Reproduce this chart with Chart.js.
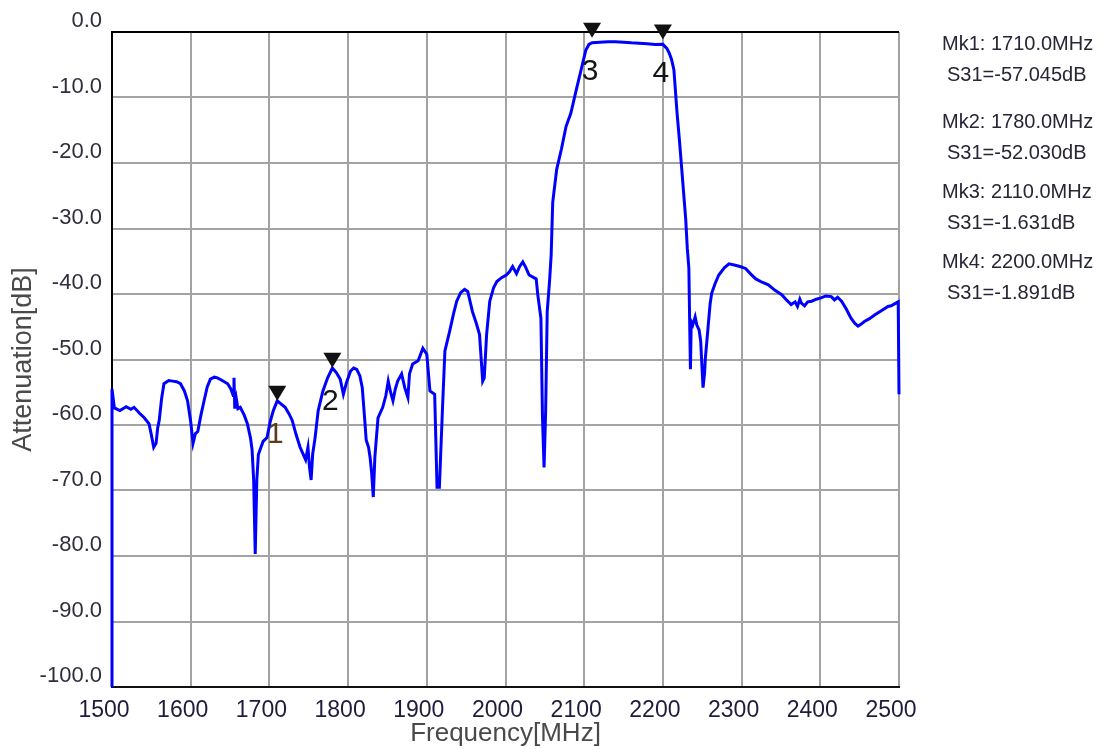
<!DOCTYPE html>
<html>
<head>
<meta charset="utf-8">
<script src="https://cdn.jsdelivr.net/npm/chart.js@4.4.1/dist/chart.umd.min.js"></script>
<style>
  html, body { margin: 0; padding: 0; background: #fff; }
  #wrap { width: 1105px; height: 749px; }
</style>
</head>
<body>
<div id="wrap"><canvas id="s31Chart" width="1105" height="749"></canvas></div>
<script>
// trace: frequency (MHz) and S31 (dB)
const freqMHz = [
  1500, 1500, 1503, 1510, 1518, 1524, 1528, 1535, 1541, 1547, 1550, 1553, 1556, 1558, 1560, 1563,
  1566, 1572, 1577, 1582, 1587, 1592, 1596, 1600, 1603, 1606, 1609, 1613, 1617, 1621, 1625, 1630,
  1634, 1640, 1647, 1651, 1654, 1655, 1656, 1658, 1660, 1663, 1668, 1672, 1676, 1678, 1680, 1682,
  1684, 1686, 1688, 1692, 1697, 1701, 1705, 1710, 1715, 1720, 1725, 1729, 1734, 1739, 1743, 1746,
  1749, 1751, 1753, 1755, 1758, 1762, 1768, 1774, 1780, 1785, 1790, 1794, 1798, 1803, 1807, 1811,
  1815, 1818, 1821, 1823, 1826, 1828, 1830, 1832, 1834, 1838, 1844, 1848, 1851, 1854, 1857, 1860,
  1863, 1868, 1872, 1876, 1878, 1882, 1889, 1895, 1900, 1904, 1910, 1913, 1916, 1920, 1923, 1929,
  1934, 1938, 1943, 1948, 1952, 1958, 1963, 1967, 1971, 1973, 1976, 1980, 1985, 1989, 1995, 2001,
  2005, 2009, 2014, 2018, 2022, 2026, 2030, 2036, 2039, 2041, 2045, 2047, 2049, 2051, 2053, 2056,
  2058, 2060, 2065, 2071, 2077, 2083, 2090, 2096, 2102, 2106, 2110, 2120, 2130, 2140, 2150, 2160,
  2170, 2180, 2190, 2200, 2205, 2208, 2211, 2214, 2218, 2221, 2224, 2229, 2231, 2233, 2234, 2235,
  2236, 2238, 2241, 2243, 2246, 2248, 2251, 2253, 2254, 2256, 2258, 2260, 2262, 2266, 2271, 2278,
  2284, 2292, 2298, 2305, 2312, 2318, 2326, 2334, 2342, 2351, 2357, 2363, 2368, 2371, 2374, 2376,
  2380, 2384, 2389, 2395, 2401, 2407, 2414, 2418, 2422, 2427, 2433, 2439, 2444, 2448, 2452, 2456,
  2462, 2469, 2477, 2486, 2490, 2496, 2499, 2500
];
const s31dB = [
  -100, -54.5, -57.4, -57.8, -57.2, -57.6, -57.3, -58.2, -58.9, -59.8, -61.5, -63.4, -62.8, -60.5, -59.3, -56.0,
  -53.7, -53.2, -53.3, -53.4, -53.7, -54.8, -56.3, -59.5, -62.8, -61.3, -61.0, -58.5, -56.3, -54.2, -53.0, -52.7,
  -52.8, -53.2, -53.7, -54.5, -55.5, -52.8, -57.5, -56.0, -57.5, -57.3, -58.5, -59.8, -62.0, -63.8, -68.4, -79.7,
  -68.4, -64.5, -63.8, -62.5, -61.9, -59.5, -57.8, -56.3, -56.8, -57.3, -58.3, -59.3, -61.5, -63.4, -64.5, -65.3,
  -63.4, -66.5, -68.4, -64.4, -62.0, -57.8, -54.8, -52.8, -51.3, -52.0, -53.0, -55.3, -53.5, -51.8, -51.3, -51.5,
  -52.5, -54.3, -59.0, -62.3, -63.4, -65.0, -67.4, -71.0, -64.9, -58.9, -57.3, -55.5, -53.3, -55.0, -56.3, -54.5,
  -53.3, -52.2, -54.3, -55.8, -52.2, -50.7, -50.2, -48.3, -49.2, -54.8, -55.3, -69.5, -69.5, -57.3, -48.7, -45.7,
  -43.0, -41.1, -39.8, -39.3, -39.6, -42.7, -44.5, -46.2, -53.3, -52.8, -46.2, -41.1, -39.0, -38.1, -37.5, -37.1,
  -36.6, -35.8, -36.9, -35.8, -35.1, -36.0, -37.1, -37.5, -37.7, -40.1, -43.7, -58.9, -66.5, -58.0, -42.7, -38.0,
  -34.1, -26.0, -21.0, -17.9, -14.4, -12.4, -8.8, -5.8, -2.8, -1.9, -1.63, -1.55, -1.5, -1.5, -1.55, -1.65,
  -1.7, -1.8, -1.9, -1.89, -2.5, -3.2, -4.2, -5.8, -12.4, -16.5, -21.0, -28.6, -33.0, -36.1, -44.2, -51.5,
  -44.2, -44.7, -43.5, -44.7, -45.5, -47.2, -54.3, -52.0, -49.7, -47.0, -44.2, -41.5, -39.9, -38.5, -37.1, -36.0,
  -35.4, -35.6, -35.8, -36.1, -37.0, -37.7, -38.2, -38.6, -39.4, -40.1, -40.9, -41.6, -41.2, -41.9, -40.8, -41.4,
  -41.8, -41.2, -41.1, -40.8, -40.6, -40.3, -40.4, -40.9, -40.5, -41.1, -42.3, -43.7, -44.5, -44.9, -44.6, -44.2,
  -43.8, -43.2, -42.6, -41.9, -41.8, -41.4, -41.2, -55.3
];

// markers
const markerFreq = [1710, 1780, 2110, 2200];
const markerDb = [-57.045, -52.030, -1.631, -1.891];
const markerNames = ['1', '2', '3', '4'];

const FONT = "'Liberation Sans', Arial, sans-serif";

const markerPlugin = {
  id: 'markers',
  afterDatasetsDraw(chart) {
    const ctx = chart.ctx;
    const xs = chart.scales.x, ys = chart.scales.y;
    ctx.save();
    for (let i = 0; i < markerFreq.length; i++) {
      const px = xs.getPixelForValue(markerFreq[i]);
      const py = ys.getPixelForValue(markerDb[i]);
      // downward triangle just above the point
      ctx.fillStyle = '#111';
      ctx.beginPath();
      ctx.moveTo(px - 9, py - 20);
      ctx.lineTo(px + 9, py - 20);
      ctx.lineTo(px, py - 5);
      ctx.closePath();
      ctx.fill();
      ctx.font = '30px ' + FONT;
      ctx.textAlign = 'center';
      ctx.textBaseline = 'middle';
      ctx.fillStyle = i === 0 ? '#5a3d1c' : '#151515';
      ctx.fillText(markerNames[i], px - 2, py + 29);
    }
    // readout on the right
    const left = chart.chartArea.right + 43;
    ctx.font = '20px ' + FONT;
    ctx.textAlign = 'left';
    ctx.textBaseline = 'middle';
    ctx.fillStyle = '#262636';
    const rowY = [44, 122, 192, 262];
    for (let i = 0; i < markerFreq.length; i++) {
      ctx.fillText('Mk' + (i + 1) + ': ' + markerFreq[i].toFixed(1) + 'MHz', left, rowY[i]);
      ctx.fillText('S31=' + markerDb[i].toFixed(3) + 'dB', left + 5, rowY[i] + 31);
    }
    ctx.restore();
  }
};

const points = freqMHz.map((f, i) => ({ x: f, y: s31dB[i] }));

new Chart(document.getElementById('s31Chart'), {
  type: 'line',
  data: {
    datasets: [{
      data: points,
      borderColor: '#0000ff',
      borderWidth: 3,
      pointRadius: 0,
      tension: 0,
      clip: 4
    }]
  },
  options: {
    responsive: false,
    animation: false,
    layout: { padding: { left: 0, right: 206, top: 32, bottom: 0 } },
    plugins: { legend: { display: false }, tooltip: { enabled: false } },
    scales: {
      x: {
        type: 'linear',
        min: 1500,
        max: 2500,
        afterFit(scale) { scale.height = 62; },
        ticks: {
          stepSize: 100,
          padding: 10,
          labelOffset: -8,
          color: '#1e1c3a',
          font: { family: FONT, size: 23 },
          callback: v => String(v)
        },
        grid: {
          drawTicks: false,
          lineWidth: 2,
          color: c => c.tick && c.tick.value === 1500 ? '#000' : '#a3a3a3'
        },
        border: { color: '#111', width: 2 },
        title: {
          display: true,
          text: 'Frequency[MHz]',
          color: '#4a4a4a',
          font: { family: FONT, size: 26 },
          padding: { top: 0, bottom: 0 }
        }
      },
      y: {
        min: -100,
        max: 0,
        afterFit(scale) { scale.width = 112; },
        ticks: {
          stepSize: 10,
          padding: 10,
          labelOffset: -11,
          color: '#2e2e3e',
          font: { family: FONT, size: 22 },
          callback: v => v.toFixed(1)
        },
        grid: {
          drawTicks: false,
          lineWidth: 2,
          color: c => c.tick && c.tick.value === 0 ? '#000' : '#a3a3a3'
        },
        border: { color: '#000', width: 2 },
        title: {
          display: true,
          text: 'Attenuation[dB]',
          color: '#4a4a4a',
          font: { family: FONT, size: 27 },
          padding: { top: 7, bottom: 0 }
        }
      }
    }
  },
  plugins: [markerPlugin]
});
</script>
</body>
</html>
